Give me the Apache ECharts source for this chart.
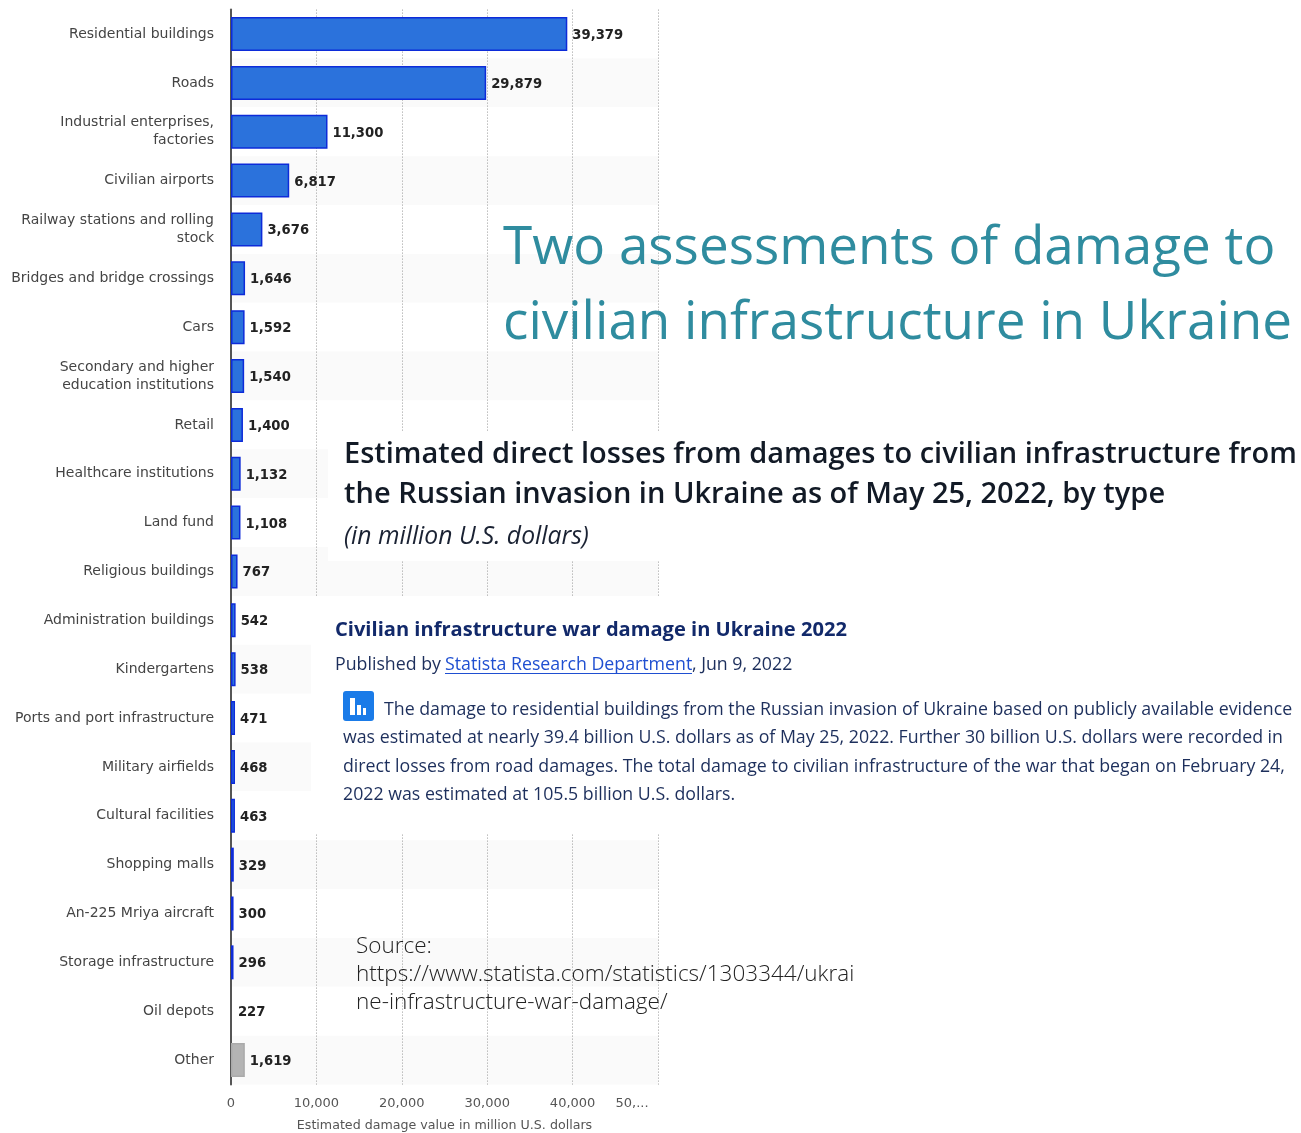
<!DOCTYPE html>
<html>
<head>
<meta charset="utf-8">
<title>Civilian infrastructure war damage in Ukraine 2022</title>
<style>
  html, body { margin: 0; padding: 0; background: #fff; }
  #chart { width: 1301px; height: 1133px; }
</style>
</head>
<body>
<div id="chart"></div>
<script src="https://cdn.jsdelivr.net/npm/echarts@6/dist/echarts.min.js"></script>
<script>
// data
const categories = [
  "Residential buildings", "Roads", "Industrial enterprises,\nfactories", "Civilian airports",
  "Railway stations and rolling\nstock", "Bridges and bridge crossings", "Cars",
  "Secondary and higher\neducation institutions", "Retail", "Healthcare institutions", "Land fund",
  "Religious buildings", "Administration buildings", "Kindergartens", "Ports and port infrastructure",
  "Military airfields", "Cultural facilities", "Shopping malls", "An-225 Mriya aircraft",
  "Storage infrastructure", "Oil depots", "Other"
];
const damageValues = [
  39379, 29879, 11300, 6817, 3676, 1646, 1592, 1540, 1400, 1132, 1108,
  767, 542, 538, 471, 468, 463, 329, 300, 296, 227, 1619
];
const xTickLabels = ["0", "10,000", "20,000", "30,000", "40,000", "50,..."];
const xAxisName = "Estimated damage value in million U.S. dollars";

const mainTitle = ["Two assessments of damage to", "civilian infrastructure in Ukraine"];
const chartTitle = [
  "Estimated direct losses from damages to civilian infrastructure from",
  "the Russian invasion in Ukraine as of May 25, 2022, by type"
];
const chartUnit = "(in million U.S. dollars)";
const articleTitle = "Civilian infrastructure war damage in Ukraine 2022";
const articleText = [
  "The damage to residential buildings from the Russian invasion of Ukraine based on publicly available evidence",
  "was estimated at nearly 39.4 billion U.S. dollars as of May 25, 2022. Further 30 billion U.S. dollars were recorded in",
  "direct losses from road damages. The total damage to civilian infrastructure of the war that began on February 24,",
  "2022 was estimated at 105.5 billion U.S. dollars."
];
const sourceText = [
  "Source:",
  "https://www.statista.com/statistics/1303344/ukrai",
  "ne-infrastructure-war-damage/"
];

const LABEL_FONT = "DejaVu Sans";
const TEXT_FONT = "Open Sans";

function text(x, y, str, size, color, extra) {
  return {
    type: "text", x: x, y: y, z: 30,
    style: Object.assign({
      text: str, fontFamily: TEXT_FONT, fontSize: size, fill: color, verticalAlign: "middle"
    }, extra || {})
  };
}

function whiteBox(x, y, width, height) {
  return { type: "rect", z: 20, shape: { x: x, y: y, width: width, height: height }, style: { fill: "#fff" } };
}

function iconBar(x, y, width, height) {
  return { type: "rect", z: 31, shape: { x: x, y: y, width: width, height: height }, style: { fill: "#fff" } };
}

// bar colours: Other is grey, the Oil depots bar can't be seen in the picture
function barStyle(name) {
  if (name === "Other") return { color: "#b4b4b4", borderColor: "#aaa" };
  if (name === "Oil depots") return { color: "transparent", borderColor: "transparent" };
  return { color: "#2b72dc", borderColor: "#0d2bd9" };
}

const chart = echarts.init(document.getElementById("chart"));

const graphics = [
  // white panels pasted over the chart
  whiteBox(328, 431, 973, 130),
  whiteBox(311, 597, 990, 236),

  text(503, 249, mainTitle[0], 53, "#2f8c9f"),
  text(503, 324, mainTitle[1], 53, "#2f8c9f"),

  text(344, 455, chartTitle[0], 29, "#121a26", { fontWeight: 600 }),
  text(344, 495, chartTitle[1], 29, "#121a26", { fontWeight: 600 }),
  text(344, 537, chartUnit, 24.7, "#1a2233", { fontStyle: "italic" }),

  text(335, 630, articleTitle, 20.1, "#12296a", { fontWeight: 700 }),
  text(335, 665, "Published by", 17.75, "#1d2f5c"),
  text(445, 665, "Statista Research Department", 17.75, "#1f4fd1"),
  { type: "rect", z: 30, shape: { x: 445, y: 673, width: 247, height: 1 }, style: { fill: "#1f4fd1" } },
  text(692, 665, ", Jun 9, 2022", 17.75, "#1d2f5c"),

  // small chart icon
  { type: "rect", z: 30, shape: { x: 343, y: 691, width: 31, height: 30, r: 3 }, style: { fill: "#1a7be8" } },
  iconBar(350, 698, 5, 17),
  iconBar(357, 705, 4, 10),
  iconBar(363, 708, 3, 7),

  text(384, 710, articleText[0], 17.75, "#1d2f5c"),
  text(343, 738, articleText[1], 17.75, "#1d2f5c"),
  text(343, 767, articleText[2], 17.75, "#1d2f5c"),
  text(343, 795, articleText[3], 17.75, "#1d2f5c"),

  text(356, 947, sourceText[0], 22.5, "#222", { fontWeight: 300 }),
  text(356, 975, sourceText[1], 22.5, "#222", { fontWeight: 300 }),
  text(356, 1003, sourceText[2], 22.5, "#222", { fontWeight: 300 })
];

const option = {
  animation: false,
  backgroundColor: "#fff",
  grid: { left: 231, width: 427, top: 9.6, height: 1074.9, outerBoundsMode: "none" },
  xAxis: {
    type: "value",
    min: 0,
    max: 50000,
    interval: 10000,
    name: xAxisName,
    nameLocation: "middle",
    nameGap: 35,
    nameTextStyle: { fontFamily: LABEL_FONT, fontSize: 12.65, color: "#555" },
    axisLine: { show: false },
    axisTick: { show: false },
    axisLabel: {
      showMaxLabel: true,
      hideOverlap: false,
      margin: 13,
      fontFamily: LABEL_FONT,
      fontSize: 13,
      color: "#555",
      formatter: function (value) {
        const label = xTickLabels[value / 10000];
        return value === 50000 ? "{last|" + label + "}" : label;
      },
      rich: { last: { fontFamily: LABEL_FONT, fontSize: 13, color: "#555", padding: [0, 52, 0, 0] } }
    },
    splitLine: { show: true, lineStyle: { color: "#999", type: [1, 2], width: 1 } }
  },
  yAxis: {
    type: "category",
    inverse: true,
    data: categories,
    axisLine: { show: true, lineStyle: { color: "#555", width: 2 } },
    axisTick: { show: false },
    axisLabel: {
      interval: 0,
      margin: 17,
      padding: [2, 0, 0, 0],
      fontFamily: LABEL_FONT,
      fontSize: 14,
      lineHeight: 18,
      color: "#444"
    },
    splitLine: { show: false },
    splitArea: { show: true, interval: 0, areaStyle: { color: ["#fff", "#fafafa"] } }
  },
  series: [{
    type: "bar",
    data: damageValues.map(function (v, i) {
      return { value: v, itemStyle: barStyle(categories[i]) };
    }),
    barWidth: 34,
    itemStyle: { borderWidth: 1.5 },
    label: {
      show: true,
      position: "right",
      distance: 5,
      offset: [0, 1.5],
      fontFamily: LABEL_FONT,
      fontSize: 13.2,
      fontWeight: "bold",
      color: "#222",
      formatter: function (p) { return p.value.toLocaleString("en-US"); }
    }
  }],
  graphic: graphics
};

chart.setOption(option);
</script>
</body>
</html>
